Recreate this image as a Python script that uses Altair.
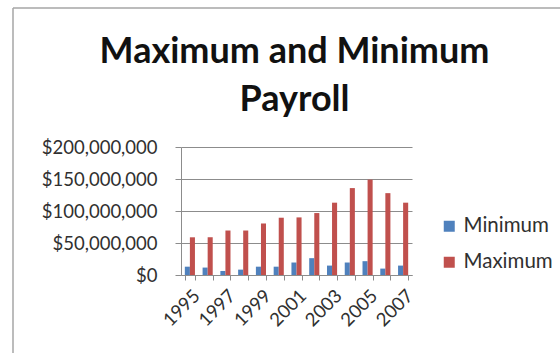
import altair as alt
import pandas as pd

years = ["1995", "1996", "1997", "1998", "1999", "2000", "2001",
         "2002", "2003", "2004", "2005", "2006", "2007"]
minimum = [13000000, 11600000, 6300000, 8400000, 13000000, 13000000, 19500000,
           26300000, 14700000, 19500000, 21600000, 10000000, 14700000]
maximum = [58900000, 59000000, 69500000, 69500000, 80500000, 89500000, 90000000,
           96800000, 113000000, 135800000, 149000000, 127900000, 113000000]
series_names = ["Minimum", "Maximum"]
series_colors = ["#4F81BD", "#C0504D"]
y_ticks = [0, 50000000, 100000000, 150000000, 200000000]

rows = []
for i, yr in enumerate(years):
    rows.append({"Year": yr, "Series": "Minimum", "Value": minimum[i]})
    rows.append({"Year": yr, "Series": "Maximum", "Value": maximum[i]})
df = pd.DataFrame(rows)

FONT = "Lato"

bars = alt.Chart(df).mark_bar().encode(
    x=alt.X(
        "Year:N", sort=years,
        scale=alt.Scale(paddingInner=0.43, paddingOuter=0.215),
        axis=alt.Axis(
            title=None, labelAngle=-45, labelAlign="right", labelBaseline="top",
            labelExpr="parseInt(datum.value) % 2 == 1 ? datum.value : ''",
            tickBand="extent", tickSize=5, tickColor="#8c8c8c",
            domainColor="#8c8c8c", labelFont=FONT, labelFontSize=18.5,
            labelColor="#303030", labelPadding=6, grid=False,
        ),
    ),
    xOffset=alt.XOffset("Series:N", sort=series_names),
    y=alt.Y(
        "Value:Q",
        scale=alt.Scale(domain=[0, 200000000]),
        axis=alt.Axis(
            title=None, values=y_ticks, format="$,.0f", tickSize=6,
            tickColor="#8c8c8c", domainColor="#8c8c8c", gridColor="#8c8c8c",
            labelFont=FONT, labelFontSize=18.5, labelColor="#303030",
            labelPadding=18,
        ),
    ),
    color=alt.Color(
        "Series:N",
        scale=alt.Scale(domain=series_names, range=series_colors),
        legend=alt.Legend(
            title=None, orient="none", legendX=258, legendY=69,
            symbolType="square", symbolSize=121, symbolStrokeWidth=0,
            labelFont=FONT, labelFontSize=20.5, labelColor="#303030",
            rowPadding=15, labelOffset=4,
        ),
    ),
)

one = pd.DataFrame({"f": [0]})
frame_left = alt.Chart(one).mark_rule(color="#a6a6a6", strokeWidth=1.5).encode(
    x=alt.value(-168), y=alt.value(-139), y2=alt.value(400)
)
frame_top = alt.Chart(one).mark_rule(color="#a6a6a6", strokeWidth=1.5).encode(
    x=alt.value(-168), x2=alt.value(600), y=alt.value(-139)
)

chart = alt.layer(frame_left, frame_top, bars).properties(
    width=231,
    height=128,
    padding={"left": 181, "top": 147, "right": 148, "bottom": 78},
    autosize=alt.AutoSizeParams(type="none"),
    background="white",
    title=alt.TitleParams(
        text=["Maximum and Minimum", "Payroll"], font=FONT, fontSize=36,
        fontWeight="bold", lineHeight=48, color="#111111", anchor="middle",
        frame="group", dx=-2, offset=-112,
    ),
).configure_view(stroke=None)

chart.save("out.html", embed_options={"renderer": "svg", "actions": False})
